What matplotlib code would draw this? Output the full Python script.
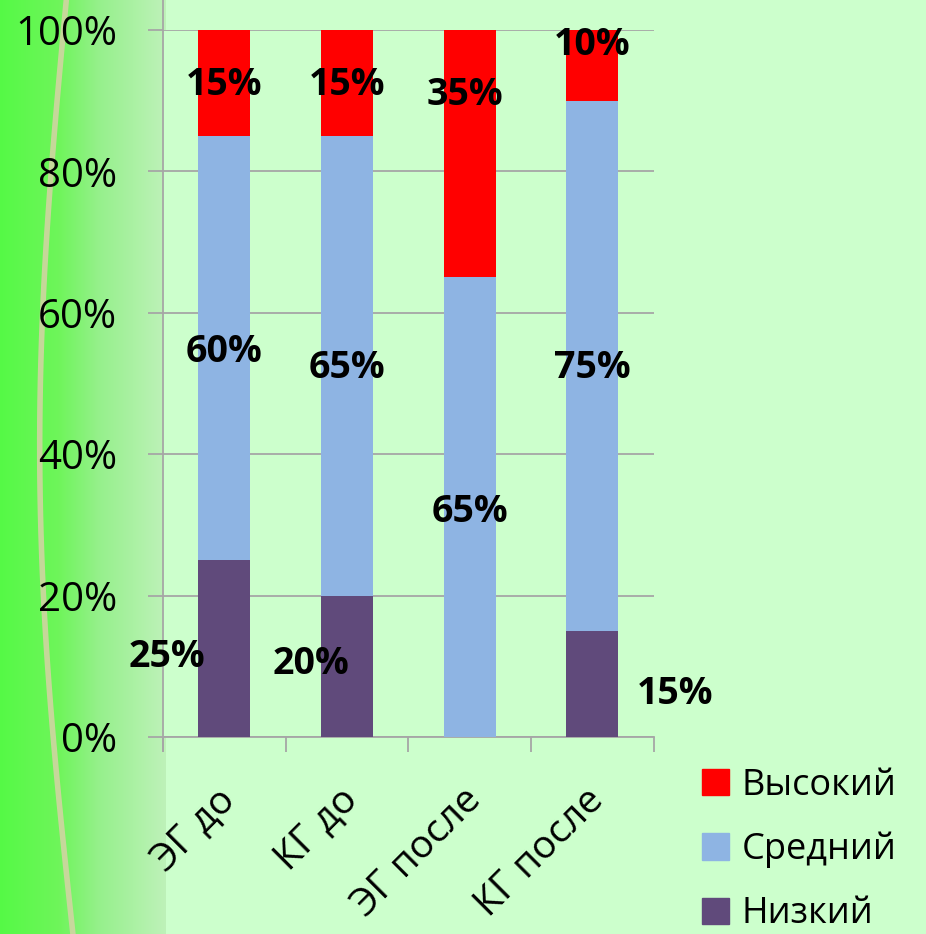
import numpy as np
import matplotlib.pyplot as plt
from matplotlib.patches import Patch

plt.rcParams['font.family'] = ['Open Sans', 'DejaVu Sans']

groups = ['ЭГ до', 'КГ до', 'ЭГ после', 'КГ после']
low = [25, 20, 0, 15]
mid = [60, 65, 65, 75]
high = [15, 15, 35, 10]
series_names = ['Высокий', 'Средний', 'Низкий']

c_high = '#ff0000'
c_mid = '#8eb4e3'
c_low = '#604a7b'
bg = '#ccffcc'
grid_c = '#a6a6a6'

fig = plt.figure(figsize=(9.26, 9.34), dpi=100, facecolor=bg)

# left decorative strip of the slide background
strip = fig.add_axes([0, 0, 0.179, 1], zorder=-5)
grad = np.linspace(0, 1, 200)
r = np.interp(grad, [0, 0.35, 0.6, 1], [85, 110, 150, 190])
g = np.interp(grad, [0, 0.35, 0.6, 1], [250, 245, 240, 242])
b = np.interp(grad, [0, 0.35, 0.6, 1], [70, 90, 140, 185])
img = np.stack([r, g, b], axis=-1)[None, :, :] / 255
strip.imshow(img, aspect='auto', extent=[0, 1, 0, 1])
yy = np.linspace(0, 1, 50)
xx = 0.40 - 0.18 * np.sin(np.pi * yy) + 0.04 * (1 - yy)
strip.plot(xx, yy, color='#d6d2a6', lw=4, alpha=0.85)
strip.set_xlim(0, 1)
strip.set_ylim(0, 1)
strip.axis('off')

ax = fig.add_axes([0.176, 0.211, 0.530, 0.757])
ax.set_facecolor(bg)

x = np.arange(len(groups))
w = 0.424
ax.bar(x, low, w, color=c_low, zorder=3)
ax.bar(x, mid, w, bottom=low, color=c_mid, zorder=3)
ax.bar(x, high, w, bottom=np.array(low) + np.array(mid), color=c_high, zorder=3)

ax.set_xlim(-0.5, 3.5)
ax.set_ylim(0, 100)
ax.set_yticks(range(0, 101, 20))
ax.set_yticklabels([f'{v}%' for v in range(0, 101, 20)], fontsize=29)
ax.yaxis.grid(True, color=grid_c, lw=1.3, zorder=0)
ax.tick_params(axis='y', length=11, color=grid_c, width=1.3, pad=22)

# category labels, rotated, tucked slightly left of bar centre
ax.set_xticks(np.arange(-0.5, 4, 1))
ax.set_xticklabels([])
ax.tick_params(axis='x', length=11, color=grid_c, width=1.3)
for i, name in enumerate(groups):
    ax.annotate(name, (x[i], 0), xycoords=ax.get_xaxis_transform(),
                xytext=(-8, -44), textcoords='offset pixels',
                ha='right', va='top', rotation=45, rotation_mode='anchor',
                fontsize=28, annotation_clip=False)

for s in ['top', 'right', 'left']:
    ax.spines[s].set_visible(False)
ax.spines['bottom'].set_color(grid_c)
ax.spines['bottom'].set_linewidth(1.3)
ax.axvline(-0.5, ymin=-0.02, ymax=1.043, color=grid_c, lw=1.3, clip_on=False, zorder=1)

# data labels (pixel offsets as placed in the original)
low_off = [(-57, -8), (-36, 2), (0, 0), (83, -10)]
mid_off = [(0, -4), (0, -2), (0, -5), (0, -2)]
high_off = [(0, -2), (0, -2), (-5, 59), (0, 20)]
for i in range(len(groups)):
    segs = [(low[i], 0, low_off[i]),
            (mid[i], low[i], mid_off[i]),
            (high[i], low[i] + mid[i], high_off[i])]
    for val, base, off in segs:
        if val == 0:
            continue
        ax.annotate(f'{val}%', (x[i], base + val / 2), xytext=off,
                    textcoords='offset pixels', ha='center', va='center',
                    fontsize=27, fontweight='bold', zorder=5,
                    annotation_clip=False)

handles = [Patch(color=c_high), Patch(color=c_mid), Patch(color=c_low)]
fig.legend(handles, series_names, loc='lower left',
           bbox_to_anchor=(0.750, -0.006), frameon=False, fontsize=26,
           handlelength=0.75, handleheight=0.75, handletextpad=0.35,
           labelspacing=0.78, borderpad=0.2, borderaxespad=0)

fig.savefig('out.png', dpi=100, facecolor=bg)
